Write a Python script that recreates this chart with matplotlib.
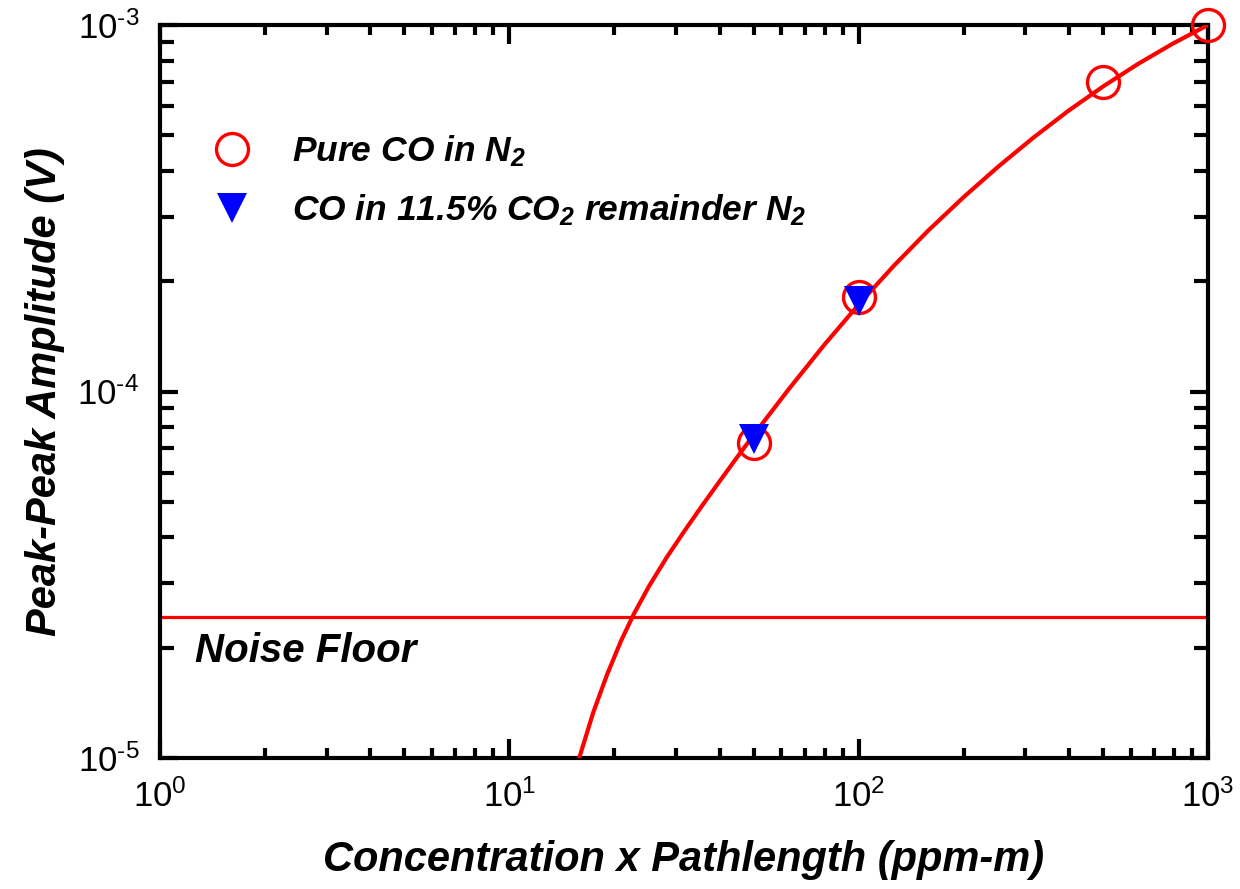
import math
import matplotlib
matplotlib.use("Agg")
import matplotlib.pyplot as plt
from matplotlib.lines import Line2D
from matplotlib.ticker import LogLocator, FuncFormatter, NullFormatter

plt.rcParams['font.family'] = ['Liberation Sans', 'DejaVu Sans']
plt.rcParams['mathtext.fontset'] = 'custom'
plt.rcParams['mathtext.rm'] = 'Liberation Sans'
plt.rcParams['mathtext.it'] = 'Liberation Sans:italic'
plt.rcParams['mathtext.bf'] = 'Liberation Sans:bold:italic'
plt.rcParams['mathtext.default'] = 'regular'
plt.rcParams['axes.unicode_minus'] = False

# ---- data ----
pure_x = [50, 100, 500, 1000]
pure_y = [7.24e-5, 1.81e-4, 6.99e-4, 1.0e-3]

co2_x = [50, 100]
co2_y = [7.4e-5, 1.77e-4]

fit_x = [15.85, 17.38, 19.05, 20.89, 22.75, 25.12, 28.18, 31.62, 35.48, 39.81,
         44.67, 50.12, 63.10, 79.43, 100.0, 125.9, 158.5, 199.5, 251.2, 316.2,
         398.1, 501.2, 631.0, 794.3, 1000.0]
fit_y = [1.0e-5, 1.330e-5, 1.690e-5, 2.089e-5, 2.477e-5, 2.944e-5, 3.520e-5,
         4.145e-5, 4.853e-5, 5.655e-5, 6.577e-5, 7.629e-5, 1.0151e-4, 1.335e-4,
         1.728e-4, 2.200e-4, 2.754e-4, 3.388e-4, 4.111e-4, 4.926e-4, 5.830e-4,
         6.800e-4, 7.834e-4, 8.904e-4, 1.0e-3]

noise_floor = 2.43e-5

legend_labels = [r'Pure CO in N$\mathbf{_2}$',
                 r'CO in 11.5% CO$\mathbf{_2}$ remainder N$\mathbf{_2}$']

# ---- figure ----
fig = plt.figure(figsize=(12.4, 8.89), dpi=100)
ax = fig.add_axes([160/1240, 1 - 758/889, 1048/1240, 733/889])
ax.set_xscale('log')
ax.set_yscale('log')
ax.set_xlim(1, 1000)
ax.set_ylim(1e-5, 1e-3)

red = '#ff0000'
blue = '#0000ff'

ax.plot(pure_x, pure_y, linestyle='none', marker='o', markersize=23,
        markerfacecolor='none', markeredgecolor=red, markeredgewidth=2.4,
        clip_on=False, zorder=3)
ax.plot(fit_x, fit_y, color=red, linewidth=3.0, zorder=4, clip_on=True,
        solid_joinstyle='round')
ax.axhline(noise_floor, color=red, linewidth=2.3, zorder=2)
ax.plot(co2_x, co2_y, linestyle='none', marker='v', markersize=21,
        color=blue, markeredgewidth=0, zorder=5)

ax.text((195 - 160) / 1048, (758 - 662) / 733, 'Noise Floor',
        transform=ax.transAxes, fontsize=29, fontweight='bold',
        fontstyle='italic', va='baseline', ha='left')

handles = [Line2D([], [], linestyle='none', marker='o', markersize=23,
                  markerfacecolor='none', markeredgecolor=red, markeredgewidth=2.4),
           Line2D([], [], linestyle='none', marker='v', markersize=21,
                  color=blue, markeredgewidth=0)]
leg = ax.legend(handles, legend_labels, loc='upper left',
                bbox_to_anchor=(0.0348, 0.872), frameon=False,
                prop={'size': 25.5, 'weight': 'bold', 'style': 'italic'},
                handlelength=1.2, handletextpad=1.1, labelspacing=0.66,
                borderaxespad=0)

for s in ax.spines.values():
    s.set_linewidth(3)


def pow_fmt(v, pos):
    e = int(round(math.log10(v)))
    if e < 0:
        return r'$\mathregular{10^{\text{-}%d}}$' % (-e)
    return r'$\mathregular{10^{%d}}$' % e


ax.xaxis.set_major_locator(LogLocator(base=10, numticks=10))
ax.xaxis.set_minor_locator(LogLocator(base=10, subs=range(2, 10), numticks=10))
ax.yaxis.set_major_locator(LogLocator(base=10, numticks=10))
ax.yaxis.set_minor_locator(LogLocator(base=10, subs=range(2, 10), numticks=10))
ax.xaxis.set_major_formatter(FuncFormatter(pow_fmt))
ax.yaxis.set_major_formatter(FuncFormatter(pow_fmt))
ax.xaxis.set_minor_formatter(NullFormatter())
ax.yaxis.set_minor_formatter(NullFormatter())

ax.tick_params(axis='x', which='major', direction='in', length=14, width=3,
               top=True, bottom=True, labelsize=25, pad=15)
ax.tick_params(axis='x', which='minor', direction='in', length=7.5, width=3,
               top=True, bottom=True)
ax.tick_params(axis='y', which='major', direction='in', length=13, width=3,
               left=True, right=True, labelsize=25, pad=15)
ax.tick_params(axis='y', which='minor', direction='in', length=10, width=3,
               left=True, right=True)

ax.set_xlabel('Concentration x Pathlength (ppm-m)', fontsize=30,
              fontweight='bold', fontstyle='italic', labelpad=19)
ax.set_ylabel('Peak-Peak Amplitude (V)', fontsize=30,
              fontweight='bold', fontstyle='italic', labelpad=9)

fig.savefig('out.png', dpi=100)
